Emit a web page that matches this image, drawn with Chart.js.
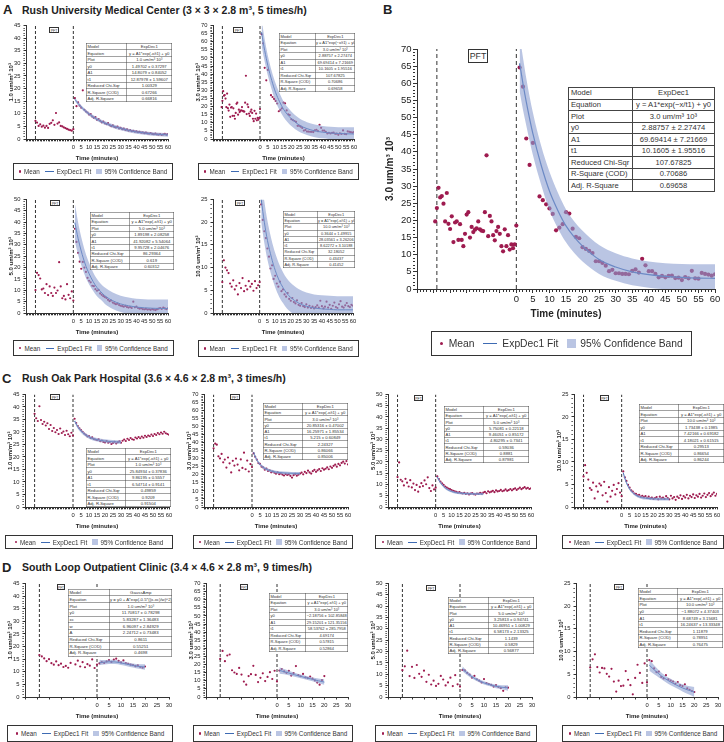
<!DOCTYPE html>
<html>
<head>
<meta charset="utf-8">
<script src="https://cdn.jsdelivr.net/npm/chart.js@4.4.1/dist/chart.umd.min.js"></script>
<style>
body{margin:0;width:724px;height:742px;position:relative;background:#fff;overflow:hidden;
  font-family:"Liberation Sans",Arial,Helvetica,sans-serif;color:#222}
canvas{position:absolute}
.lbl{position:absolute;font-weight:bold;white-space:nowrap;line-height:1}
.tbl{position:absolute;transform-origin:0 0;border-collapse:collapse;table-layout:fixed;background:#fff;color:#333}
.tbl td{border:1px solid #444;padding:0 0 0 2px;white-space:nowrap;overflow:hidden;line-height:1}
.tbl td+td{text-align:center;padding:0}
.pft{position:absolute;transform-origin:0 0;border:1px solid #333;background:#fff;text-align:center;color:#333;box-sizing:border-box}
.leg{position:absolute;border:1px solid #333;box-sizing:border-box;display:flex;align-items:center;justify-content:center;white-space:nowrap;color:#333}
.leg .dot{border-radius:50%;background:#9e1b4f}
.leg .ln{height:1px;background:#3e6bb3}
.leg .sq{background:rgba(140,158,208,0.6)}
</style>
</head>
<body>
<script>
// ---- data ----
// time axes (minutes, PFT period is the negative part)
var preT = [-24,-23,-22,-21,-20,-19,-18,-17,-16,-15,-14,-13,-12,-11,-10,-9,-8,-7,-6,-5,-4,-3,-2,-1,0];
var postT = [1,2,3,4,5,6,7,8,9,10,11,12,13,14,15,16,17,18,19,20,21,22,23,24,25,26,27,28,29,30,
  31,32,33,34,35,36,37,38,39,40,41,42,43,44,45,46,47,48,49,50,51,52,53,54,55,56,57,58,59,60];
var postT20 = [1,2,3,4,5,6,7,8,9,10,11,12,13,14,15,16,17,18,19,20];
var fitT60 = [1,2,3,5,7.5,10,12.5,15,17.5,20,25,30,35,40,45,50,55,60];
var cFitT = [1,2,3,5,7.5,10,12.5,15,20,25,30];
var dFitT = [1,3,5,7.5,10,12.5,15,17.5,20];

// B (same data as A, 3.0 um)
var bPreT = [-24.5,-24,-23.5,-23,-22.5,-22,-21.5,-21,-20.5,-20,-19.5,-19,-18.5,-18,-17.5,-17,-16.5,-16,-15.5,-15,
  -14.5,-14,-13.5,-13,-12.5,-12,-11.5,-11,-10.5,-10,-9.5,-9,-8.5,-8,-7.5,-7,-6.5,-6,-5.5,-5,-4.5,-4,-3.5,-3,-2.5,-2,-1.5,-1,-0.5,0];
var bPreY = [19.7,23.6,29.5,26.7,27.1,24.9,19.7,28.0,19.0,17.5,21.2,13.7,19.4,19.7,14.3,18.9,14.3,12.5,16.1,21.7,
  22.4,15.0,18.1,16.6,17.3,17.7,19.7,17.4,17.0,16.9,22.4,39.0,15.4,21.3,19.7,15.7,14.2,16.9,18.1,16.1,12.5,11.0,17.4,12.5,15.7,11.5,13.0,11.9,13.0,18.5];
var bPostT = [1,2,3,4,5,7,8,9,10,11,12,13,14,15,16,17,18,19,20,21,22,23,24,25,26,27,28,29,30,
  31,32,33,34,35,36,37,38,39,40,41,42,43,44,45,46,47,48,49,50,51,52,53,54,55,56,57,58,59,60];
var bPostY = [64.6,59.0,43.9,36.2,42.6,27.0,25.9,24.7,23.5,21.9,17.1,17.9,18.9,22.4,22.0,17.6,15.2,14.8,12.2,11.7,11.1,10.5,8.1,8.1,7.6,6.8,5.2,5.6,4.6,
  4.6,4.4,4.4,4.3,5.3,5.7,4.8,8.8,6.9,5.2,5.2,4.4,3.4,3.8,3.4,3.8,3.9,3.2,3.3,2.6,3.5,3.1,5.3,3.1,3.0,4.7,4.4,4.2,3.9,4.3];
var bFit = [65.8,59.9,54.6,45.3,36.1,28.6,23.0,18.4,15.1,12.5,8.6,6.4,5.0,4.2,3.7,3.4,3.2,3.1];
var bHi = [74,67.5,61.5,51.5,41.8,34.2,28.2,23.2,19.7,17.0,12.8,10.4,8.9,8.0,7.5,7.3,7.2,7.2];
var bLo = [57.6,52.3,47.7,39.1,30.4,23.0,17.8,13.6,10.5,8.0,4.4,2.4,1.1,0.4,-0.1,-0.5,-0.8,-1.0];

// A 1.0 um
var a1Pre = [7.2,6.5,5.2,5.8,4.9,5.3,4.5,5.2,4.4,6.0,6.4,7.4,5.6,10.3,6.1,6.6,5.2,5.0,4.6,4.3,4.0,3.7,3.5,3.3,3.9];
var a1Post = [16.2,13.0,14.5,13.2,12.4,19.3,11.6,10.9,10.5,9.7,9.9,8.9,8.4,8.7,7.6,7.9,7.2,6.6,6.9,6.2,
  5.9,6.3,5.5,5.1,5.4,4.8,4.6,4.9,4.2,4.4,3.9,4.1,3.6,3.8,3.3,3.5,3.1,3.2,2.9,3.0,
  2.7,2.8,2.5,2.6,2.3,2.5,2.2,2.1,2.3,2.0,1.9,2.1,1.8,1.7,1.9,1.6,1.8,2.0,1.7,1.9];
var a1Fit = [15.7,14.9,14.1,12.7,11.2,9.9,8.8,7.8,7.0,6.3,5.1,4.2,3.4,2.8,2.4,2.0,1.8,1.6];
var a1Hi = [16.4,15.6,14.8,13.4,11.9,10.6,9.5,8.5,7.7,7.0,5.8,4.9,4.1,3.5,3.1,2.7,2.5,2.3];
var a1Lo = [15.0,14.2,13.4,12.0,10.5,9.2,8.1,7.1,6.3,5.6,4.4,3.5,2.7,2.1,1.7,1.3,1.1,0.9];

// A 5.0 um
var a3Pre = [10.1,17.7,16.7,15.2,10.4,10.8,8.8,12.7,7.9,11.7,8.8,7.5,11.2,8.8,9.9,22.4,11.7,6.5,7.5,6.0,12.7,8.0,6.5,9.5,5.5];
var a3Post = [37.1,31.3,26.5,22.6,19.5,22.5,20.0,18.1,15.5,14.2,13.5,12.0,11.8,10.5,9.8,10.2,8.6,8.0,7.4,7.0,
  6.6,5.8,5.2,5.5,4.6,4.2,3.9,4.1,3.5,3.2,3.0,2.8,3.1,2.6,2.4,2.6,2.2,5.0,2.5,2.8,
  2.2,1.9,2.1,1.7,1.6,1.8,1.5,1.6,1.4,1.7,1.5,1.3,1.6,1.9,2.2,1.8,2.4,2.0,1.7,2.1];
var a3Fit = [39.8,36.2,32.9,27.3,21.6,17.3,13.9,11.2,9.3,7.6,5.4,4.0,3.2,2.6,2.3,2.1,2.0,1.95];
var a3Hi = [48,44,40,33.5,27,22,18,15,12.8,11.2,9,7.6,6.8,6.3,6.1,6.0,5.9,5.9];
var a3Lo = [31.6,28.4,25.8,21.1,16.2,12.6,9.8,7.4,5.8,4.0,1.8,0.4,-0.4,-1,-1.5,-1.8,-2,-2];

// A 10.0 um
var a4Pre = [6.8,11.6,10.0,9.4,8.8,6.5,5.8,7.2,5.2,6.0,4.1,6.6,5.5,7.7,4.8,6.0,5.2,7.0,5.8,6.4,4.9,7.0,5.5,6.1,6.8];
var a4Post = [23.9,20.5,18.0,16.5,14.2,12.4,9.8,10.5,7.5,8.2,6.5,5.8,6.9,4.8,5.2,4.1,3.6,4.4,3.1,2.7,
  3.3,2.4,2.1,2.8,1.8,1.6,2.2,1.5,1.3,1.9,1.2,1.6,1.1,1.4,1.0,1.3,1.7,1.2,2.7,1.5,
  1.0,1.4,2.5,1.2,1.8,0.9,1.6,2.3,1.3,1.1,1.9,2.6,1.4,1.2,1.7,2.2,1.5,1.3,1.8,1.6];
var a4Fit = [25,22.4,20,16,12.3,9.4,7.2,5.6,4.3,3.4,2.2,1.5,1.1,0.9,0.8,0.7,0.7,0.7];
var a4Hi = [30,27.2,24.6,20.3,16.3,13.2,10.8,9.0,7.6,6.6,5.3,4.5,4.1,3.9,3.8,3.7,3.7,3.7];
var a4Lo = [20,17.6,15.4,11.7,8.3,5.6,3.6,2.2,1.0,0.2,-0.9,-1.5,-1.9,-2.1,-2.2,-2.3,-2.3,-2.3];

// C Rush Oak Park
var c1Pre = [37.3,35.5,34.4,40.3,34.8,33.2,34.1,32.6,33.5,31.2,32.8,30.4,31.6,29.9,30.8,29.2,31.4,29.6,30.2,28.8,30.5,29.1,28.3,29.7,28.6];
var c1Post = [35.3,33.6,32.4,31.5,30.8,30.1,29.4,28.9,28.2,28.4,27.6,27.9,27.2,27.0,26.8,27.1,26.3,26.6,26.0,25.8,
  26.4,25.7,26.0,25.2,25.6,26.1,25.4,25.9,26.3,25.7,26.5,27.0,26.4,27.3,26.8,27.6,27.1,26.9,27.8,27.4,
  28.0,27.5,28.2,27.7,28.5,28.0,28.6,28.3,29.0,28.4,29.2,28.8,29.6,29.1,29.8,29.3,30.1,29.5,29.2,28.9];
var c1Fit = [34.4,33.2,32.0,30.4,29.0,28.0,27.3,26.9,26.4,26.1,25.95];
var c1Hi = [35.1,33.9,32.7,31.1,29.7,28.7,28.0,27.6,27.1,26.8,26.65];
var c1Lo = [33.7,32.5,31.3,29.7,28.3,27.3,26.6,26.2,25.7,25.4,25.25];

var c2Pre = [36.5,39.4,38.8,31.5,30.2,33.0,27.8,29.5,24.5,30.8,27.2,21.5,28.7,25.8,30.1,26.4,22.8,29.6,24.3,33.8,23.5,28.9,22.1,26.7,24.9];
var c2Post = [33.4,31.2,29.5,27.3,26.8,25.1,24.6,23.2,23.9,22.4,22.8,21.6,22.1,21.3,20.7,21.5,20.4,20.9,20.2,19.6,
  20.5,19.9,20.3,19.4,18.3,19.8,20.6,19.5,20.1,20.8,21.4,20.3,21.9,21.1,22.6,21.5,20.8,22.3,23.1,21.9,
  22.8,23.6,22.4,24.1,23.2,23.8,24.6,23.5,25.2,24.4,25.6,26.3,25.1,26.8,25.9,27.4,28.2,27.0,28.6,26.5];
var c2Fit = [34.1,31.4,29.3,26.5,24.3,23.1,22.3,21.7,21.2,20.95,20.9];
var c2Hi = [35.0,32.3,30.2,27.4,25.2,24.0,23.2,22.6,22.1,21.85,21.8];
var c2Lo = [33.2,30.5,28.4,25.6,23.4,22.2,21.4,20.8,20.3,20.05,20.0];

var c3Pre = [13.3,19.8,12.1,11.4,9.6,12.5,10.8,9.1,11.9,8.7,10.4,7.5,9.8,6.8,8.9,10.6,9.3,11.8,10.1,13.2,8.4,7.1,9.6,7.8,8.6];
var c3Post = [13.6,12.4,11.3,10.5,9.8,9.1,8.6,8.2,7.9,7.5,7.2,7.0,6.7,6.4,6.6,6.2,6.0,6.3,5.8,6.1,
  5.6,5.9,6.2,5.7,5.5,6.0,5.8,6.3,5.9,6.4,6.7,6.1,7.0,6.5,6.8,7.2,6.6,7.4,6.9,7.1,
  7.6,7.0,7.3,7.8,7.2,7.5,8.0,7.4,7.9,8.3,7.6,8.1,8.6,7.9,8.4,8.8,8.2,8.5,8.0,8.3];
var c3Fit = [13.4,12.0,10.8,9.1,7.7,6.9,6.4,6.2,5.9,5.8,5.76];
var c3Hi = [13.9,12.5,11.3,9.6,8.2,7.4,6.9,6.7,6.4,6.3,6.26];
var c3Lo = [12.9,11.5,10.3,8.6,7.2,6.4,5.9,5.7,5.4,5.3,5.26];

var c4Pre = [6.8,9.3,7.6,6.1,4.2,3.8,5.4,1.9,4.6,3.4,5.2,4.8,2.6,5.6,3.1,1.2,4.4,2.3,3.6,4.9,2.8,4.0,5.3,3.2,2.4];
var c4Post = [7.9,6.6,5.8,4.9,4.3,3.7,3.4,3.0,2.9,2.6,2.7,2.3,2.5,2.2,2.4,2.0,2.3,1.9,2.1,1.8,
  2.0,2.2,1.7,2.3,1.9,2.1,1.8,2.4,2.0,1.7,2.5,1.9,2.2,1.6,2.3,2.0,2.6,1.8,2.4,2.1,
  2.7,1.9,2.5,2.2,2.8,2.0,2.6,2.3,2.9,2.1,2.5,3.0,2.2,2.7,3.1,2.4,2.8,3.2,2.5,2.9];
var c4Fit = [7.6,6.4,5.4,4.0,3.0,2.4,2.1,1.95,1.8,1.75,1.74];
var c4Hi = [7.9,6.7,5.7,4.3,3.3,2.7,2.4,2.25,2.1,2.05,2.04];
var c4Lo = [7.3,6.1,5.1,3.7,2.7,2.1,1.8,1.65,1.5,1.45,1.44];

// D South Loop
var d1Pre = [16.6,16.1,15.3,14.2,15.0,13.4,12.8,14.1,12.6,13.2,11.9,12.3,11.6,13.5,16.5,12.9,14.4,12.1,13.8,11.8,13.0,12.4,14.9,11.5,12.8];
var d1Post = [13.3,13.8,13.5,14.1,14.6,13.9,14.8,15.2,14.3,13.7,14.5,13.4,13.1,12.8,12.6,12.2,12.5,11.9,11.6,12.1];
var d1Fit = [13.7,13.8,13.95,13.9,13.5,13.0,12.5,12.1,11.9];
var d1Hi = [14.8,14.7,14.8,14.7,14.3,13.8,13.3,13.0,13.0];
var d1Lo = [12.6,12.9,13.1,13.1,12.7,12.2,11.7,11.2,10.8];

var d2Pre = [23.5,28.4,22.1,25.6,26.2,16.5,15.1,14.2,17.9,13.8,9.5,7.6,12.9,14.1,19.2,13.6,9.2,11.8,14.6,9.8,12.4,15.3,11.1,16.2,9.6];
var d2Post = [16.3,17.2,15.8,14.9,16.1,13.2,14.7,19.1,13.5,12.8,14.2,12.1,11.7,12.6,11.3,10.2,8.9,7.6,10.4,12.9];
var d2Fit = [16.4,15.6,14.8,13.7,12.7,11.8,10.9,10.0,9.2];
var d2Hi = [18.4,17.2,16.2,14.9,13.8,12.9,12.1,11.4,10.9];
var d2Lo = [14.4,14.0,13.4,12.5,11.6,10.7,9.7,8.6,7.5];

var d3Pre = [11.8,13.5,20.4,9.2,13.3,8.4,14.1,10.2,8.9,11.6,6.7,9.8,5.5,7.2,4.9,5.8,9.3,7.7,5.1,6.4,8.5,4.8,9.6,5.6,4.6];
var d3Post = [11.9,11.7,10.6,9.9,8.5,9.3,7.8,7.2,6.4,7.9,6.1,5.7,5.3,4.6,5.2,4.4,3.9,2.7,4.3,4.1];
var d3Fit = [12.4,10.5,8.9,7.4,6.2,5.4,4.7,4.3,4.0];
var d3Hi = [13.5,11.4,9.7,8.1,6.9,6.1,5.5,5.2,5.2];
var d3Lo = [11.3,9.6,8.1,6.7,5.5,4.7,3.9,3.4,2.8];

var d4Pre = [6.5,8.3,9.4,6.6,5.4,6.4,6.3,5.1,4.5,6.2,3.4,1.2,3.6,2.4,2.5,5.7,3.8,2.6,0.6,4.2,7.1,5.3,3.1,7.4,3.2];
var d4Post = [8.1,7.9,6.3,5.5,5.6,4.4,4.1,4.8,3.9,3.6,3.4,2.9,3.3,2.6,2.4,2.8,1.9,1.6,1.3,1.1];
var d4Fit = [7.0,6.0,5.1,4.1,3.3,2.6,2.0,1.5,1.1];
var d4Hi = [8.2,7.0,5.9,4.8,4.0,3.3,2.8,2.4,2.2];
var d4Lo = [5.8,5.0,4.3,3.4,2.6,1.9,1.2,0.6,0.0];

// fit tables
var expEq = 'y = A1*exp(-x/t1) + y0';
var tA1 = [['Model','ExpDec1'],['Equation',expEq],['Plot','1.0 um/m³ 10³'],['y0','1.49702 ± 0.37297'],['A1','14.8079 ± 0.84052'],['t1','12.87978 ± 1.59607'],['Reduced Chi-Sqr','1.00329'],['R-Square (COD)','0.67266'],['Adj. R-Square','0.66816']];
var tB = [['Model','ExpDec1'],['Equation','y = A1*exp(−x/t1) + y0'],['Plot','3.0 um/m³ 10³'],['y0','2.88757 ± 2.27474'],['A1','69.69414 ± 7.21669'],['t1','10.1605 ± 1.95516'],['Reduced Chi-Sqr','107.67825'],['R-Square (COD)','0.70686'],['Adj. R-Square','0.69658']];
var tA3 = [['Model','ExpDec1'],['Equation',expEq],['Plot','5.0 um/m³ 10³'],['y0','1.89198 ± 2.08258'],['A1','41.92082 ± 5.54064'],['t1','9.95728 ± 2.04676'],['Reduced Chi-Sqr','86.29364'],['R-Square (COD)','0.619'],['Adj. R-Square','0.60312']];
var tA4 = [['Model','ExpDec1'],['Equation',expEq],['Plot','10.0 um/m³ 10³'],['y0','0.3644 ± 1.49915'],['A1','28.03561 ± 3.26206'],['t1','8.62272 ± 3.10188'],['Reduced Chi-Sqr','32.18052'],['R-Square (COD)','0.43437'],['Adj. R-Square','0.41452']];
var tC1 = [['Model','ExpDec1'],['Equation',expEq],['Plot','1.0 um/m³ 10³'],['y0','25.84934 ± 0.37836'],['A1','9.86195 ± 0.5557'],['t1','6.54714 ± 0.9141'],['Reduced Chi-Sqr','0.49859'],['R-Square (COD)','0.9209'],['Adj. R-Square','0.91504']];
var tC2 = [['Model','ExpDec1'],['Equation',expEq],['Plot','3.0 um/m³ 10³'],['y0','20.85316 ± 0.47002'],['A1','16.25971 ± 1.85534'],['t1','5.215 ± 0.60849'],['Reduced Chi-Sqr','2.24327'],['R-Square (COD)','0.86066'],['Adj. R-Square','0.85006']];
var tC3 = [['Model','ExpDec1'],['Equation',expEq],['Plot','5.0 um/m³ 10³'],['y0','5.75081 ± 0.22118'],['A1','9.46051 ± 0.85172'],['t1','4.80295 ± 0.7341'],['Reduced Chi-Sqr','0.59036'],['R-Square (COD)','0.8881'],['Adj. R-Square','0.87981']];
var tC4 = [['Model','ExpDec1'],['Equation',expEq],['Plot','10.0 um/m³ 10³'],['y0','1.73438 ± 0.1985'],['A1','7.42166 ± 0.69182'],['t1','4.18021 ± 0.61515'],['Reduced Chi-Sqr','0.29513'],['R-Square (COD)','0.86654'],['Adj. R-Square','0.86244']];
var tD1 = [['Model','GaussAmp'],['Equation','y = y0 + A*exp(-0.5*((x-xc)/w)^2)'],['Plot','1.0 um/m³ 10³'],['y0','11.70817 ± 0.78298'],['xc','5.83287 ± 1.36483'],['w','6.96097 ± 2.84929'],['A','2.24712 ± 0.73483'],['Reduced Chi-Sqr','0.8611'],['R-Square (COD)','0.55251'],['Adj. R-Square','0.4698']];
var tD2 = [['Model','ExpDec1'],['Equation',expEq],['Plot','3.0 um/m³ 10³'],['y0','−2.18756 ± 102.85848'],['A1','29.15201 ± 121.35156'],['t1','58.53762 ± 285.7958'],['Reduced Chi-Sqr','4.69174'],['R-Square (COD)','0.57815'],['Adj. R-Square','0.52864']];
var tD3 = [['Model','ExpDec1'],['Equation',expEq],['Plot','5.0 um/m³ 10³'],['y0','3.25813 ± 0.94741'],['A1','10.46951 ± 1.00829'],['t1','6.58173 ± 2.13325'],['Reduced Chi-Sqr','1.1439'],['R-Square (COD)','0.5829'],['Adj. R-Square','0.56877']];
var tD4 = [['Model','ExpDec1'],['Equation',expEq],['Plot','10.0 um/m³ 10³'],['y0','−1.88072 ± 4.37403'],['A1','8.68749 ± 3.15681'],['t1','16.24637 ± 13.33348'],['Reduced Chi-Sqr','1.11879'],['R-Square (COD)','0.78951'],['Adj. R-Square','0.76475']];

// ---- drawing ----
var FAM = '"Liberation Sans", Arial, Helvetica, sans-serif';
var PT = '#9e1b4f';
var FIT = '#3e6bb3';
var BAND = 'rgba(140,158,208,0.6)';

var SMALL = {yw:24, padT:6, padR:7, xh:25, tick:5.8, tl:2.5, tpad:2, ttl:6, yTitlePad:5.4, xTitlePad:2.4, ptR:1.1, fitW:1, dash:[3,2]};
var BIG = {yw:42, padT:10, padR:10, xh:34, tick:9.5, tl:4, tpad:0.5, ttl:10, yTitlePad:9, xTitlePad:2.5, ptR:2.1, fitW:1.2, dash:[4,3]};

function pts(xs, ys) {
  var out = [];
  for (var i = 0; i < ys.length; i++) out.push({x: xs[i], y: ys[i]});
  return out;
}

function makePanel(p) {
  var s = p.big ? BIG : SMALL;
  var cv = document.createElement('canvas');
  cv.width = (p.R - p.L) + s.yw + s.padR;
  cv.height = (p.B - p.T) + s.padT + s.xh;
  cv.style.left = (p.L - s.yw) + 'px';
  cv.style.top = (p.T - s.padT) + 'px';
  document.body.appendChild(cv);
  var smooth = {pointRadius: 0, cubicInterpolationMode: 'monotone'};
  var vline = function(x) {
    return {data: [{x: x, y: 0}, {x: x, y: p.yMax}], borderColor: '#333', borderWidth: 1, borderDash: s.dash, pointRadius: 0, fill: false};
  };
  var xStep = p.xStep || 1;
  new Chart(cv, {
    type: 'line',
    data: {datasets: [
      Object.assign({data: pts(p.fitX, p.hi), borderWidth: 0, fill: false}, smooth),
      Object.assign({data: pts(p.fitX, p.lo), borderWidth: 0, fill: '-1', backgroundColor: BAND}, smooth),
      Object.assign({data: pts(p.fitX, p.fit), borderColor: FIT, borderWidth: s.fitW, fill: false}, smooth),
      {data: pts(p.preX, p.preY), showLine: false, pointRadius: s.ptR, pointBorderWidth: 0, pointBackgroundColor: PT},
      {data: pts(p.postX, p.postY), showLine: false, pointRadius: s.ptR, pointBorderWidth: 0, pointBackgroundColor: PT},
      vline(-24),
      vline(0)
    ]},
    options: {
      responsive: false, animation: false, devicePixelRatio: 1,
      layout: {padding: {top: s.padT, right: s.padR, left: 0, bottom: 0}},
      plugins: {legend: {display: false}, tooltip: {enabled: false}},
      scales: {
        x: {
          type: 'linear', min: p.xMin, max: p.xMax,
          afterFit: function(sc) { sc.height = s.xh; },
          ticks: {stepSize: xStep, autoSkip: false, maxRotation: 0, minRotation: 0, padding: s.tpad, color: '#222',
            font: {size: s.tick, family: FAM},
            callback: function(v) { return (v >= 0 && v % 5 === 0) ? String(v) : ''; }},
          grid: {drawOnChartArea: false, tickLength: s.tl, color: '#333',
            tickBorderDash: function(c) { return (c.tick && c.tick.value % 5 === 0) ? [] : [s.tl * 0.5, 20]; }},
          border: {color: '#333', width: 1},
          title: {display: true, text: 'Time (minutes)', color: '#222', padding: {top: 0, bottom: s.xTitlePad},
            font: {size: s.ttl, weight: 'bold', family: FAM}}
        },
        y: {
          min: 0, max: p.yMax,
          afterFit: function(sc) { sc.width = s.yw; },
          ticks: {stepSize: 1, autoSkip: false, padding: s.tpad + 1, color: '#222', font: {size: s.tick, family: FAM},
            callback: function(v) { return v % 5 === 0 ? String(v) : ''; }},
          grid: {drawOnChartArea: false, tickLength: s.tl, color: '#333',
            tickBorderDash: function(c) { return (c.tick && c.tick.value % 5 === 0) ? [] : [s.tl * 0.5, 20]; }},
          border: {color: '#333', width: 1},
          title: {display: true, text: p.yT, color: '#222', padding: {top: s.yTitlePad, bottom: 0},
            font: {size: s.ttl, weight: 'bold', family: FAM}}
        }
      }
    }
  });
}

function addLabel(x, cy, size, text) {
  var d = document.createElement('div');
  d.className = 'lbl';
  d.style.left = x + 'px';
  d.style.top = (cy - size * 0.49) + 'px';
  d.style.fontSize = size + 'px';
  d.textContent = text;
  document.body.appendChild(d);
}

// k = draw at k times size then shrink, so tiny text stays crisp
function addTable(x, y, w, h, c1, rows, fs, k) {
  var t = document.createElement('table');
  t.className = 'tbl';
  t.style.left = x + 'px'; t.style.top = y + 'px';
  t.style.width = (w * k) + 'px'; t.style.height = (h * k) + 'px';
  t.style.fontSize = (fs * k) + 'px';
  t.style.transform = 'scale(' + (1 / k) + ')';
  var rh = h * k / rows.length;
  rows.forEach(function(r, i) {
    var tr = document.createElement('tr');
    var a = document.createElement('td'), b = document.createElement('td');
    a.textContent = r[0]; b.textContent = r[1];
    a.style.height = rh + 'px'; a.style.borderWidth = b.style.borderWidth = k * 0.8 + 'px';
    if (i === 0) a.style.width = (c1 * k) + 'px';
    tr.appendChild(a); tr.appendChild(b); t.appendChild(tr);
  });
  document.body.appendChild(t);
}

function addPft(x, y, w, h, fs, k) {
  var d = document.createElement('div');
  d.className = 'pft';
  d.style.left = x + 'px'; d.style.top = y + 'px';
  d.style.width = (w * k) + 'px'; d.style.height = (h * k) + 'px';
  d.style.fontSize = (fs * k) + 'px'; d.style.lineHeight = (h * k - 2) + 'px';
  d.style.borderWidth = k + 'px';
  d.style.transform = 'scale(' + (1 / k) + ')';
  d.textContent = 'PFT';
  document.body.appendChild(d);
}

function addLegend(x, y, w, h, fs) {
  var d = document.createElement('div');
  d.className = 'leg';
  d.style.left = x + 'px'; d.style.top = y + 'px';
  d.style.width = w + 'px'; d.style.height = h + 'px';
  d.style.fontSize = fs + 'px';
  var g = fs * 0.85;
  d.innerHTML =
    '<span class="dot" style="width:' + fs * 0.32 + 'px;height:' + fs * 0.32 + 'px;margin-right:' + g * 0.6 + 'px"></span>' +
    '<span style="margin-right:' + g + 'px">Mean</span>' +
    '<span class="ln" style="width:' + fs * 1.35 + 'px;margin-right:' + g * 0.6 + 'px"></span>' +
    '<span style="margin-right:' + g + 'px">ExpDec1 Fit</span>' +
    '<span class="sq" style="width:' + fs * 0.85 + 'px;height:' + fs * 0.85 + 'px;margin-right:' + g * 0.5 + 'px"></span>' +
    '<span>95% Confidence Band</span>';
  document.body.appendChild(d);
}

var panels = [
  {L:26, T:25, R:168, B:139, xMin:-30, xMax:60, yMax:45, yT:'1.0 um/m³ 10³', preX:preT, preY:a1Pre, postX:postT, postY:a1Post, fitX:fitT60, fit:a1Fit, hi:a1Hi, lo:a1Lo},
  {L:213, T:25, R:354, B:139, xMin:-30, xMax:60, yMax:70, yT:'3.0 um/m³ 10³', preX:bPreT, preY:bPreY, postX:bPostT, postY:bPostY, fitX:fitT60, fit:bFit, hi:bHi, lo:bLo},
  {L:26, T:199, R:168, B:313, xMin:-30, xMax:60, yMax:50, yT:'5.0 um/m³ 10³', preX:preT, preY:a3Pre, postX:postT, postY:a3Post, fitX:fitT60, fit:a3Fit, hi:a3Hi, lo:a3Lo},
  {L:213, T:199, R:353, B:313, xMin:-30, xMax:60, yMax:25, yT:'10.0 um/m³ 10³', preX:preT, preY:a4Pre, postX:postT, postY:a4Post, fitX:fitT60, fit:a4Fit, hi:a4Hi, lo:a4Lo},
  {big:true, L:417, T:49, R:715, B:289, xMin:-30, xMax:60, yMax:70, yT:'3.0 um/m³ 10³', preX:bPreT, preY:bPreY, postX:bPostT, postY:bPostY, fitX:fitT60, fit:bFit, hi:bHi, lo:bLo},
  {L:25, T:394, R:169, B:507, xMin:-30, xMax:60, yMax:45, yT:'1.0 um/m³ 10³', preX:preT, preY:c1Pre, postX:postT, postY:c1Post, fitX:cFitT, fit:c1Fit, hi:c1Hi, lo:c1Lo},
  {L:204, T:394, R:348, B:507, xMin:-30, xMax:60, yMax:70, yT:'3.0 um/m³ 10³', preX:preT, preY:c2Pre, postX:postT, postY:c2Post, fitX:cFitT, fit:c2Fit, hi:c2Hi, lo:c2Lo},
  {L:388, T:394, R:531, B:507, xMin:-30, xMax:60, yMax:50, yT:'5.0 um/m³ 10³', preX:preT, preY:c3Pre, postX:postT, postY:c3Post, fitX:cFitT, fit:c3Fit, hi:c3Hi, lo:c3Lo},
  {L:574, T:394, R:717, B:507, xMin:-30, xMax:60, yMax:25, yT:'10.0 um/m³ 10³', preX:preT, preY:c4Pre, postX:postT, postY:c4Post, fitX:cFitT, fit:c4Fit, hi:c4Hi, lo:c4Lo},
  {L:25, T:583, R:169, B:697, xMin:-30, xMax:30, xStep:5, yMax:45, yT:'1.0 um/m³ 10³', preX:preT, preY:d1Pre, postX:postT20, postY:d1Post, fitX:dFitT, fit:d1Fit, hi:d1Hi, lo:d1Lo},
  {L:206, T:583, R:348, B:697, xMin:-30, xMax:30, xStep:5, yMax:70, yT:'3.0 um/m³ 10³', preX:preT, preY:d2Pre, postX:postT20, postY:d2Post, fitX:dFitT, fit:d2Fit, hi:d2Hi, lo:d2Lo},
  {L:388, T:583, R:532, B:697, xMin:-30, xMax:30, xStep:5, yMax:50, yT:'5.0 um/m³ 10³', preX:preT, preY:d3Pre, postX:postT20, postY:d3Post, fitX:dFitT, fit:d3Fit, hi:d3Hi, lo:d3Lo},
  {L:576, T:583, R:718, B:697, xMin:-30, xMax:30, xStep:5, yMax:25, yT:'10.0 um/m³ 10³', preX:preT, preY:d4Pre, postX:postT20, postY:d4Post, fitX:dFitT, fit:d4Fit, hi:d4Hi, lo:d4Lo}
];
panels.forEach(makePanel);

// section headings
addLabel(3, 9, 13, 'A');
addLabel(22, 10, 10.5, 'Rush University Medical Center (3 × 3 × 2.8 m³, 5 times/h)');
addLabel(383, 9, 13, 'B');
addLabel(2, 378, 13, 'C');
addLabel(22, 378.5, 10.5, 'Rush Oak Park Hospital (3.6 × 4.6 × 2.8 m³, 3 times/h)');
addLabel(2, 567, 13, 'D');
addLabel(22, 567.5, 10.5, 'South Loop Outpatient Clinic (3.4 × 4.6 × 2.8 m³, 9 times/h)');

// fit tables
addTable(86, 43, 86, 54, 39, tA1, 4.2, 2);
addTable(279, 33, 76, 54, 35, tB, 4.0, 2);
addTable(90, 212, 84, 53, 38, tA3, 4.2, 2);
addTable(283, 211, 72, 52, 33, tA4, 3.9, 2);
addTable(568, 87, 147, 95, 61, tB, 7.6, 1);
addTable(86, 448, 85, 54, 38, tC1, 4.2, 2);
addTable(263, 403, 85, 52, 38, tC2, 4.2, 2);
addTable(444, 406, 85, 52, 38, tC3, 4.2, 2);
addTable(639, 404, 85, 54, 38, tC4, 4.2, 2);
addTable(68, 589, 104, 62, 40, tD1, 4.3, 2);
addTable(269, 593, 79, 54, 35, tD2, 4.0, 2);
addTable(448, 597, 86, 52, 39, tD3, 4.2, 2);
addTable(638, 588, 85, 55, 38, tD4, 4.2, 2);

// PFT boxes
addPft(49, 27, 10, 6, 3.5, 2);
addPft(233, 27, 10, 6, 3.5, 2);
addPft(50, 200, 10, 6, 3.5, 2);
addPft(235, 200, 10, 6, 3.5, 2);
addPft(468, 49, 20, 14, 8.8, 1);
addPft(50, 394, 10, 6, 3.5, 2);
addPft(230, 394, 10, 6, 3.5, 2);
addPft(414, 395, 9, 6, 3.5, 2);
addPft(600, 395, 9, 6, 3.5, 2);
addPft(57, 584, 8, 6, 3.2, 2);
addPft(240, 584, 8, 6, 3.2, 2);
addPft(426, 585, 10, 6, 3.5, 2);
addPft(614, 584, 10, 6, 3.5, 2);

// legends
addLegend(13, 163, 160, 17, 6.3);
addLegend(198, 163, 161, 17, 6.3);
addLegend(13, 340, 161, 16, 6.3);
addLegend(198, 340, 161, 17, 6.3);
addLegend(431, 331, 261, 25, 10.3);
addLegend(5, 535, 168, 14, 6.3);
addLegend(193, 535, 160, 14, 6.3);
addLegend(375, 535, 162, 14, 6.3);
addLegend(562, 535, 162, 14, 6.3);
addLegend(7, 725, 166, 17, 6.3);
addLegend(193, 725, 160, 17, 6.3);
addLegend(375, 725, 162, 17, 6.3);
addLegend(562, 725, 162, 17, 6.3);
</script>
</body>
</html>
